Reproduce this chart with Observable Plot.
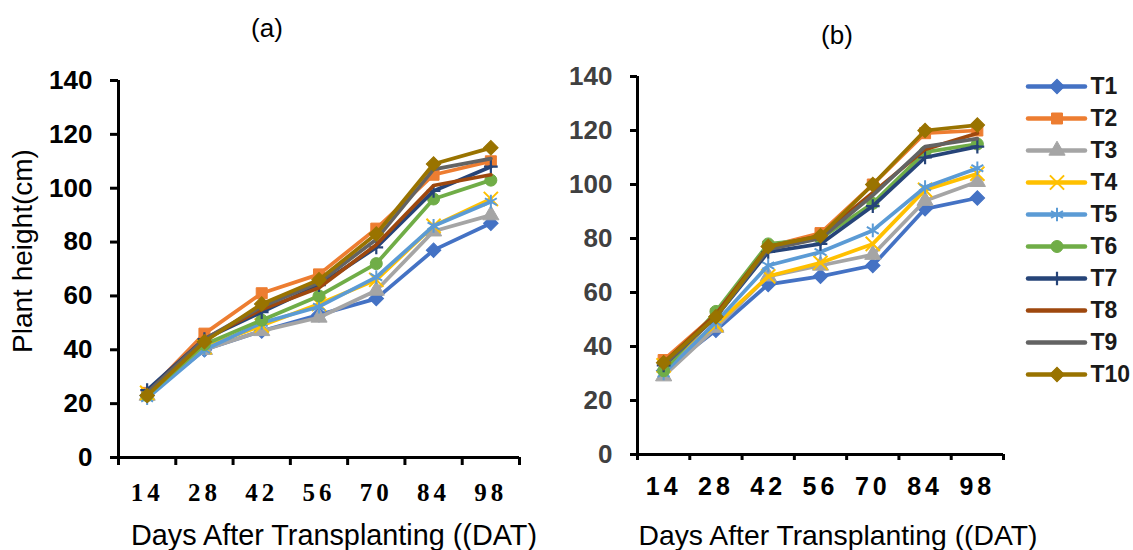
<!DOCTYPE html>
<html><head><meta charset="utf-8">
<script src="https://cdn.jsdelivr.net/npm/d3@7"></script>
<script src="https://cdn.jsdelivr.net/npm/@observablehq/plot@0.6"></script>
<style>
body{margin:0;background:#fff;}
#wrap{position:relative;width:1133px;height:550px;overflow:hidden;font-family:"Liberation Sans",Arial,sans-serif;background:#fff;}
.abs{position:absolute;white-space:nowrap;line-height:1;color:#000;}
#pa,#pb,#lg{position:absolute;top:0;}
#pa{left:0;} #pb{left:545px;} #lg{left:1010px;}
#pa [aria-label^="y-axis"] text{font:bold 26px "Liberation Sans",Arial,sans-serif;fill:#000;}
#pb [aria-label^="y-axis"] text{font:bold 26px "Liberation Sans",Arial,sans-serif;fill:#404040;}
#pa [aria-label^="x-axis"] text{font:bold 25px "Liberation Serif","Times New Roman",serif;fill:#000;letter-spacing:4px;}
#pb [aria-label^="x-axis"] text{font:bold 25px "Liberation Sans",Arial,sans-serif;fill:#000;letter-spacing:4px;}
[aria-label^="y-axis"] line,[aria-label^="y-axis"] path{stroke:#000;stroke-width:3px;}
</style></head>
<body>
<div id="wrap">
  <div id="pa"></div>
  <div id="pb"></div>
  <div id="lg"></div>
  <div class="abs" style="left:267px;top:15px;font-size:26px;transform:translateX(-50%);">(a)</div>
  <div class="abs" style="left:837px;top:22px;font-size:26px;transform:translateX(-50%);">(b)</div>
  <div class="abs" style="left:334px;top:521px;font-size:28.8px;transform:translateX(-50%);">Days After Transplanting ((DAT)</div>
  <div class="abs" style="left:838px;top:521px;font-size:28.3px;transform:translateX(-50%);">Days After Transplanting ((DAT)</div>
  <div class="abs" style="left:23px;top:251px;font-size:28px;transform:translate(-50%,-50%) rotate(-90deg);">Plant height(cm)</div>
</div>
<script>
// ---- data ----
const days = [14, 28, 42, 56, 70, 84, 98];
const yTicks = [0, 20, 40, 60, 80, 100, 120, 140];
const names = ["T1","T2","T3","T4","T5","T6","T7","T8","T9","T10"];

// panel (a)
const aT1  = [23, 40, 47, 53, 59, 77, 87];
const aT2  = [24, 46, 61, 68, 85, 105, 110];
const aT3  = [23, 40, 47, 52, 62, 84, 90];
const aT4  = [24, 41, 49, 57, 66, 86, 96];
const aT5  = [22, 40, 50, 56, 67, 86, 95];
const aT6  = [23, 42, 51, 60, 72, 96, 103];
const aT7  = [25, 44, 54, 64, 78, 99, 108];
const aT8  = [24, 44, 55, 63, 79, 101, 105];
const aT9  = [24, 44, 56, 65, 81, 107, 111];
const aT10 = [23, 43, 57, 66, 83, 109, 115];

// panel (b)
const bT1  = [31, 46, 63, 66, 70, 91, 95];
const bT2  = [35, 52, 77, 82, 100, 119, 120];
const bT3  = [29, 47, 66, 70, 74, 94, 101];
const bT4  = [33, 48, 66, 71, 78, 98, 104];
const bT5  = [30, 49, 70, 75, 83, 99, 106];
const bT6  = [31, 53, 78, 80, 93, 112, 115];
const bT7  = [33, 51, 75, 78, 92, 110, 114];
const bT8  = [34, 52, 77, 81, 97, 113, 119];
const bT9  = [33, 51, 76, 80, 96, 114, 117];
const bT10 = [34, 51, 77, 81, 100, 120, 122];

// styles
const colors = ["#4472C4","#ED7D31","#A5A5A5","#FFC000","#5B9BD5","#70AD47","#264478","#9E480E","#636363","#997300"];
const symbols = ["diamond","square","triangle","times","asterisk","circle","plus",null,null,"diamond"];

const seriesA = [aT1,aT2,aT3,aT4,aT5,aT6,aT7,aT8,aT9,aT10];
const seriesB = [bT1,bT2,bT3,bT4,bT5,bT6,bT7,bT8,bT9,bT10];

const step = days[1] - days[0];
const bounds = days.map(d => d - step/2).concat([days[days.length-1] + step/2]);

function markerOpts(k) {
  const c = colors[k], s = symbols[k];
  switch (s) {
    case "diamond":  return {symbol:"square", rotate:45, r:5.8, fill:c, stroke:c, strokeWidth:1};
    case "square":   return {symbol:"square", r:6.2, fill:c, stroke:c, strokeWidth:1};
    case "triangle": return {symbol:"triangle", r:6, fill:c, stroke:c, strokeWidth:1};
    case "circle":   return {symbol:"circle", r:6, fill:c, stroke:c, strokeWidth:1};
    case "times":    return {symbol:"times", r:6.5, fill:"none", stroke:c, strokeWidth:2};
    case "asterisk": return {symbol:"asterisk", r:6.5, fill:"none", stroke:c, strokeWidth:2};
    case "plus":     return {symbol:"plus", r:4.5, fill:"none", stroke:c, strokeWidth:2.2};
    default: return null;
  }
}

function seriesMarks(series) {
  const marks = [];
  series.forEach((vals, k) => {
    const data = days.map((d, i) => ({day: d, v: vals[i]}));
    marks.push(Plot.line(data, {x: "day", y: "v", stroke: colors[k], strokeWidth: 3.75, strokeLinejoin: "round", strokeLinecap: "round"}));
    const m = markerOpts(k);
    if (m) marks.push(Plot.dot(data, {x: "day", y: "v", ...m}));
  });
  return marks;
}

function panel(series, opt) {
  return Plot.plot({
    width: opt.width, height: 550,
    marginLeft: opt.ml, marginRight: opt.mr, marginTop: opt.mt, marginBottom: opt.mb,
    style: {background: "transparent", overflow: "visible", fontFamily: "Liberation Sans, Arial, sans-serif"},
    x: {type: "linear", domain: [bounds[0], bounds[bounds.length-1]], ticks: days, tickSize: 0, tickPadding: opt.xpad, tickFormat: d => String(d), label: null},
    y: {domain: [yTicks[0], yTicks[yTicks.length-1]], ticks: yTicks, tickSize: opt.ytick, tickPadding: 18, tickFormat: d => String(d), label: null},
    marks: [
      Plot.ruleX(bounds, {x: d => d, y1: 0, y2: 0, insetBottom: -opt.xtick, stroke: "#000", strokeWidth: 3}),
      Plot.ruleY([0], {stroke: "#000", strokeWidth: 3}),
      Plot.ruleX([bounds[0]], {stroke: "#000", strokeWidth: 3}),
      ...seriesMarks(series)
    ]
  });
}

document.getElementById("pa").append(panel(seriesA, {width: 545, ml: 118, mr: 26, mt: 80, mb: 93, xpad: 26, ytick: 8, xtick: 8}));
document.getElementById("pb").append(panel(seriesB, {width: 465, ml: 92, mr: 7, mt: 76, mb: 96, xpad: 23, ytick: 7, xtick: 6}));

// legend
const legendMarks = [];
names.forEach((n, k) => {
  legendMarks.push(Plot.ruleY([n], {y: d => d, x1: 0, x2: 1, stroke: colors[k], strokeWidth: 4.5, strokeLinecap: "round"}));
  const m = markerOpts(k);
  if (m) legendMarks.push(Plot.dot([n], {x: 0.5, y: d => d, ...m}));
});
legendMarks.push(Plot.text(names, {x: 1, y: d => d, text: d => d, textAnchor: "start", dx: 5, fontSize: 23, fontWeight: "bold", fill: "#1a1a1a", fontFamily: "Liberation Sans, Arial, sans-serif"}));
document.getElementById("lg").append(Plot.plot({
  width: 123, height: 420, marginLeft: 0, marginRight: 0, marginTop: 0, marginBottom: 0,
  style: {background: "transparent", overflow: "visible"},
  x: {domain: [0, 1], range: [18, 75], axis: null},
  y: {type: "point", domain: names, range: [68, 392], axis: null},
  marks: legendMarks
}));
</script>
</body></html>
